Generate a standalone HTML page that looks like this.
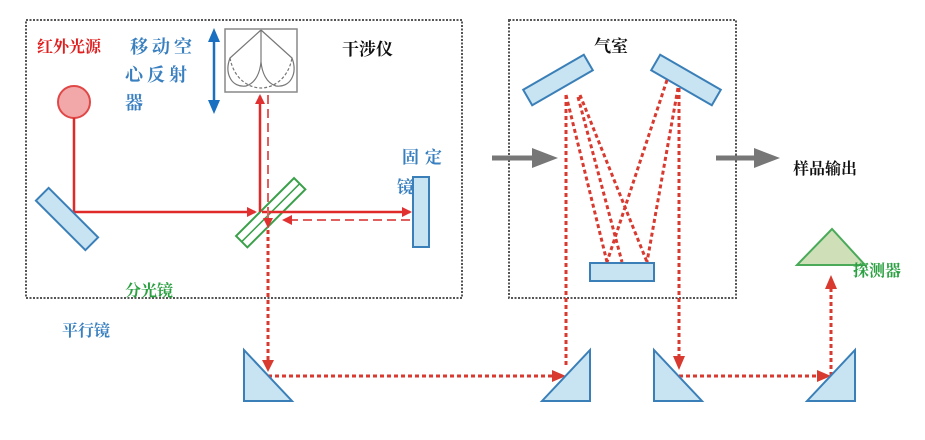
<!DOCTYPE html>
<html><head><meta charset="utf-8"><style>
html,body{margin:0;padding:0;background:#fff;}
svg{display:block;}
text{font-family:"Liberation Serif","Noto Serif CJK SC",serif;font-weight:bold;}
</style></head><body>
<svg width="925" height="440" viewBox="0 0 925 440" xmlns="http://www.w3.org/2000/svg">
<defs>
<marker id="ar" markerWidth="10" markerHeight="10" refX="8" refY="5" orient="auto" markerUnits="userSpaceOnUse"><path d="M0,0 L10,5 L0,10 z" fill="#e03030"/></marker>
</defs>
<rect x="26" y="20" width="436" height="278" fill="none" stroke="#555" stroke-width="2" stroke-dasharray="2,1.5"/>
<rect x="509" y="20" width="227" height="278" fill="none" stroke="#555" stroke-width="2" stroke-dasharray="2,1.5"/>

<circle cx="74" cy="102" r="16" fill="#f2a8a8" stroke="#e04848" stroke-width="2"/>
<polyline points="74,118 74,212 255,212" fill="none" stroke="#e02a2a" stroke-width="2.5" marker-end="url(#ar)"/>
<rect x="32" y="210" width="70" height="18" fill="#c8e4f2" stroke="#3a7fb8" stroke-width="2" transform="rotate(45 67 219)"/>

<g transform="rotate(-45 270 212)">
<rect x="229" y="205" width="82" height="16" fill="#fff" stroke="#3aa04a" stroke-width="2"/>
<line x1="229" y1="213" x2="311" y2="213" stroke="#3aa04a" stroke-width="1.5"/>
</g>
<line x1="260" y1="212" x2="260" y2="96" stroke="#e02a2a" stroke-width="2.5" marker-end="url(#ar)"/>
<line x1="262" y1="212" x2="410" y2="212" stroke="#e02a2a" stroke-width="2.5" marker-end="url(#ar)"/>
<line x1="410" y1="220" x2="284" y2="220" stroke="#e06060" stroke-width="2" stroke-dasharray="9,5" marker-end="url(#ar)"/>
<line x1="268" y1="95" x2="268" y2="228" stroke="#e06060" stroke-width="2" stroke-dasharray="9,5"/>
<line x1="268" y1="216" x2="268" y2="226" stroke="#e06060" stroke-width="2" marker-end="url(#ar)"/>
<line x1="268" y1="230" x2="268" y2="366" stroke="#d83a30" stroke-width="3" stroke-dasharray="4,3"/>
<path d="M262,360 L274,360 L268,372 z" fill="#d83a30"/>

<rect x="413" y="177" width="16" height="70" fill="#c8e4f2" stroke="#3a7fb8" stroke-width="2"/>

<rect x="225" y="29" width="72" height="63" fill="#fff" stroke="#888" stroke-width="1.5"/>
<g fill="none" stroke="#777" stroke-width="1.2">
<path d="M261,30 L261,62"/>
<path d="M261,30 L230,58 C224,74 232,88 246,86 C256,83 260,72 261,62"/>
<path d="M261,30 L292,58 C298,74 290,88 276,86 C266,83 262,72 261,62"/>
<path d="M230,58 C234,80 250,88 261,88 C272,88 288,80 292,58" stroke-dasharray="3,2"/>
</g>
<line x1="214" y1="38" x2="214" y2="105" stroke="#1a70c0" stroke-width="2.5"/>
<path d="M208,42 L214,28 L220,42 z" fill="#1a70c0"/>
<path d="M208,100 L214,114 L220,100 z" fill="#1a70c0"/>

<rect x="523" y="71" width="70" height="18" fill="#c8e4f2" stroke="#3a7fb8" stroke-width="2" transform="rotate(-30 558 80)"/>
<rect x="651" y="71" width="70" height="18" fill="#c8e4f2" stroke="#3a7fb8" stroke-width="2" transform="rotate(30 686 80)"/>
<rect x="590" y="263" width="64" height="18" fill="#c8e4f2" stroke="#3a7fb8" stroke-width="2"/>
<g stroke="#d83a30" stroke-width="3" stroke-dasharray="4,3" fill="none">
<line x1="566" y1="95" x2="607" y2="262"/>
<line x1="578" y1="97" x2="622" y2="262"/>
<line x1="580" y1="95" x2="647" y2="262"/>
<line x1="667" y1="80" x2="607" y2="262"/>
<line x1="678" y1="88" x2="647" y2="262"/>
<line x1="566" y1="95" x2="566" y2="368"/>
<line x1="679" y1="88" x2="679" y2="358"/>
</g>
<path d="M673,356 L685,356 L679,370 z" fill="#d83a30"/>
<line x1="492" y1="158" x2="540" y2="158" stroke="#777" stroke-width="5"/>
<path d="M532,148 L558,158 L532,168 z" fill="#777"/>
<line x1="716" y1="158" x2="762" y2="158" stroke="#777" stroke-width="5"/>
<path d="M754,148 L780,158 L754,168 z" fill="#777"/>

<g stroke="#d83a30" stroke-width="3" stroke-dasharray="4,3" fill="none">
<line x1="268" y1="376" x2="552" y2="376"/>
<line x1="679" y1="376" x2="818" y2="376"/>
<line x1="831" y1="376" x2="831" y2="288"/>
</g>
<path d="M552,370 L566,376 L552,382 z" fill="#d83a30"/>
<path d="M817,370 L831,376 L817,382 z" fill="#d83a30"/>
<path d="M825,289 L831,275 L837,289 z" fill="#d83a30"/>
<g fill="#c8e4f2" stroke="#3a7fb8" stroke-width="2">
<polygon points="244,350 244,401 292,401"/>
<polygon points="542,401 590,350 590,401"/>
<polygon points="654,350 654,401 702,401"/>
<polygon points="807,401 855,350 855,401"/>
</g>
<polygon points="797,265 832,229 865,265" fill="#cfe0b8" stroke="#4aaa5a" stroke-width="2"/>

<text x="37" y="52" font-size="16" fill="#e02020">红外光源</text>
<text x="130" y="53" font-size="18" fill="#3a80c0" letter-spacing="4">移动空</text>
<text x="125" y="81" font-size="18" fill="#3a80c0" letter-spacing="4">心反射</text>
<text x="125" y="109" font-size="18" fill="#3a80c0">器</text>
<text x="342" y="55" font-size="17" fill="#111">干涉仪</text>
<text x="402" y="163" font-size="17" fill="#3a80c0" letter-spacing="6">固定</text>
<text x="397" y="193" font-size="17" fill="#3a80c0">镜</text>
<text x="125" y="296" font-size="16" fill="#2aa040">分光镜</text>
<text x="62" y="336" font-size="16" fill="#3a80c0">平行镜</text>
<text x="594" y="52" font-size="17" fill="#111">气室</text>
<text x="793" y="174" font-size="16" fill="#111">样品输出</text>
<text x="853" y="276" font-size="16" fill="#2aa040">探测器</text>
</svg>
</body></html>
